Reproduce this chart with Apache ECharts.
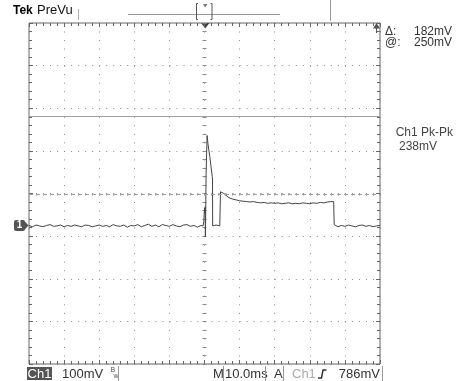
<!DOCTYPE html>
<html>
<head>
<meta charset="utf-8">
<title>Tek PreVu</title>
<script src="https://cdn.jsdelivr.net/npm/echarts@6/dist/echarts.min.js"></script>
<style>
html, body { margin: 0; padding: 0; background: #fff; }
#scope { width: 459px; height: 381px; }
</style>
</head>
<body>
<div id="scope"></div>
<script>
// [time ms (0 = trigger), Ch1 voltage mV above ground]
var preTrigger = [
    [-50, 1], [-49, -2], [-48, 2], [-47, 0], [-46, -2], [-45, 1], [-44, 3], [-43, -1], [-42, 0], [-41, 2],
    [-40, -2], [-39, 1], [-38, -1], [-37, 2], [-36, 0], [-35, -2], [-34, 2], [-33, 1], [-32, -2], [-31, 0],
    [-30, 2], [-29, -1], [-28, 1], [-27, -2], [-26, 3], [-25, 0], [-24, -1], [-23, 2], [-22, -3], [-21, 1],
    [-20, 0], [-19, 3], [-18, -2], [-17, 1], [-16, 4], [-15, -1], [-14, 2], [-13, -2], [-12, 3], [-11, 1],
    [-10, -1], [-9, 3], [-8, 0], [-7, -2], [-6, 2], [-5, 3], [-4, -1], [-3, 1], [-2, -3], [-1, 1], [-0.4, 0]
];
var pulse = [
    [-0.2, 10], [0.0, 42], [0.1, 30], [0.2, 45], [0.25, -26], [0.3, 0], [0.45, 120], [0.74, 212],
    [1.03, 190], [1.5, 163], [2.2, 116], [2.28, 110], [2.32, 0], [2.8, -2], [3.3, 2], [3.8, -1], [4.35, 0]
];
var plateau = [
    [4.56, 80], [5, 79], [5.5, 76], [6, 72], [7, 66], [8, 63], [9, 61], [10, 59], [11, 58], [12, 57],
    [13, 56], [14, 57], [15, 55], [16, 54], [17, 55], [18, 53], [19, 54], [20, 53], [21, 54], [22, 52],
    [23, 53], [24, 54], [25, 52], [26, 53], [27, 52], [28, 54], [29, 53], [30, 52], [31, 54], [32, 53],
    [33, 55], [34, 54], [35, 56], [36, 57], [36.8, 57]
];
var postPulse = [
    [36.95, 3], [37.3, 0], [38, -2], [39, 1], [40, -1], [41, 2], [42, 0], [43, -2], [44, 1], [45, 2],
    [46, -1], [47, 1], [48, -2], [49, 0], [50, 1]
];
var cursorLevels = [257, 75];   // solid cursor, dashed cursor (mV)
var readout = {delta: '182mV', at: '250mV', pkpk: '238mV', scale: '100mV', time: '10.0ms', trig: '786mV'};

var INK = '#333';
var GRAT = '#8a8a8a';
var FONT = '"Liberation Sans Narrow","Liberation Sans",Arial,sans-serif';

function txt(x, y, s, size, color, align, weight) {
    return {
        type: 'text', x: x, y: y, silent: true,
        style: {
            text: s, fill: color || INK,
            font: (weight || 'normal') + ' ' + size + 'px ' + FONT,
            textAlign: align || 'left', textVerticalAlign: 'middle'
        }
    };
}
function seg(x1, y1, x2, y2, color) {
    return {type: 'line', silent: true, shape: {x1: x1, y1: y1, x2: x2, y2: y2},
        style: {stroke: color || '#999', lineWidth: 1}};
}
function poly(points, fill) {
    return {type: 'polygon', silent: true, shape: {points: points}, style: {fill: fill}};
}
function line(points, stroke, w) {
    return {type: 'polyline', silent: true, shape: {points: points},
        style: {stroke: stroke, lineWidth: w || 1, fill: null}};
}

// graticule axes (divisions), ticks only
function divAxis(pos, min, max, extra) {
    var a = {
        type: 'value', position: pos, min: min, max: max, interval: (max - min) / (pos === 'top' || pos === 'bottom' ? 10 : 8),
        axisLine: {show: false, onZero: false},
        axisTick: {show: true, inside: true, length: 4, lineStyle: {color: '#666'}},
        minorTick: {show: true, splitNumber: 5, length: 3, lineStyle: {color: '#666'}},
        axisLabel: {show: false},
        splitLine: {show: false}
    };
    for (var k in extra) a[k] = extra[k];
    return a;
}

var myChart = echarts.init(document.getElementById('scope'));

var headerGraphics = [
    txt(13, 10.5, 'Tek', 12, '#000', 'left', 'bold'),
    txt(37, 10.5, 'PreVu', 13, '#111'),
    seg(78.5, 9, 78.5, 20, '#aaa'),
    seg(128, 14.5, 280, 14.5, '#999'),
    seg(330.5, 0, 330.5, 21, '#999'),
    line([[198, 3.5], [196.5, 3.5], [196.5, 19.5], [198, 19.5]], '#555'),
    line([[210.5, 3.5], [212, 3.5], [212, 19.5], [210.5, 19.5]], '#555'),
    poly([[203, 4], [207.5, 4], [205.2, 7.5]], '#777'),
    poly([[201, 23], [209.5, 23], [205.2, 28.5]], '#444'),
    poly([[373, 28.5], [380, 28.5], [376.5, 23]], '#555'),
    seg(376.5, 28, 376.5, 33, '#555'),

    txt(385, 31.5, '\u0394:', 12),
    txt(452, 31.5, readout.delta, 12, INK, 'right'),
    txt(385, 42.5, '@:', 12),
    txt(452, 42.5, readout.at, 12, INK, 'right'),
    txt(453, 132.5, 'Ch1 Pk-Pk', 12, '#444', 'right'),
    txt(437, 147, readout.pkpk, 12, '#444', 'right'),

    {type: 'rect', silent: true, shape: {x: 27, y: 367, width: 25, height: 13}, style: {fill: '#555'}},
    txt(39.5, 374, 'Ch1', 13, '#fff', 'center'),
    txt(62, 374, readout.scale, 13),
    txt(110.5, 370.5, 'B', 7, '#555'),
    txt(113.5, 376, 'w', 7, '#555'),
    seg(118.5, 366, 118.5, 381, '#999'),
    txt(213, 374, 'M', 13),
    seg(223.5, 366, 223.5, 381, '#999'),
    txt(225, 374, readout.time, 13),
    seg(265.5, 366, 265.5, 381, '#999'),
    txt(274, 374, 'A', 13),
    seg(283.5, 366, 283.5, 381, '#999'),
    txt(292, 374, 'Ch1', 13, '#aaa'),
    line([[318, 378], [321.5, 378], [323, 370], [326.5, 370]], '#333', 1.5),
    txt(380, 374, readout.trig, 13, INK, 'right'),
    seg(382.5, 366, 382.5, 381, '#999')
];

var option = {
    animation: false,
    backgroundColor: '#fff',
    grid: {left: 29, top: 23, width: 351, height: 341, show: true, borderColor: '#666', borderWidth: 1},
    xAxis: [
        divAxis('bottom', -50, 50, {splitLine: {show: true, lineStyle: {color: GRAT, width: 1, type: [1, 7.525]}}}),
        divAxis('top', -50, 50),
        divAxis('bottom', -50, 50, {offset: -170.5, axisTick: {show: true, inside: false, length: 2, lineStyle: {color: GRAT}},
            minorTick: {show: true, splitNumber: 5, length: 2, lineStyle: {color: GRAT}}})
    ],
    yAxis: [
        divAxis('left', -4, 4, {splitLine: {show: true, lineStyle: {color: GRAT, width: 1, type: [1, 6.02]}}}),
        divAxis('right', -4, 4),
        {type: 'value', show: false, min: -324, max: 476, axisLine: {onZero: false}, splitLine: {show: false}},
        divAxis('left', -4, 4, {offset: -175.5, axisTick: {show: true, inside: false, length: 2, lineStyle: {color: GRAT}},
            minorTick: {show: true, splitNumber: 5, length: 2, lineStyle: {color: GRAT}}}),
        divAxis('left', -4, 4, {offset: -175.5, axisTick: {show: true, inside: true, length: 2, lineStyle: {color: GRAT}},
            minorTick: {show: true, splitNumber: 5, length: 2, lineStyle: {color: GRAT}}})
    ],
    series: [
        {
            name: 'Ch1',
            type: 'line',
            xAxisIndex: 0,
            yAxisIndex: 2,
            showSymbol: false,
            symbol: 'none',
            lineStyle: {color: '#444', width: 1},
            data: preTrigger.concat(pulse, plateau, postPulse),
            markLine: {
                silent: true,
                symbol: 'none',
                label: {show: false},
                data: [
                    {yAxis: cursorLevels[0], lineStyle: {type: 'solid', color: '#a0a0a0', width: 1}},
                    {yAxis: cursorLevels[1], lineStyle: {type: [4, 3], color: '#a0a0a0', width: 1}}
                ]
            }
        }
    ],
    graphic: headerGraphics
};
myChart.setOption(option, true);

// channel 1 ground marker on the left edge
var gy = myChart.convertToPixel({yAxisIndex: 2}, 0);
myChart.setOption({
    graphic: headerGraphics.concat([
        {type: 'rect', silent: true, shape: {x: 14, y: gy - 6, width: 11, height: 11, r: 2}, style: {fill: '#555'}},
        poly([[24.5, gy - 5], [28.5, gy - 0.5], [24.5, gy + 4]], '#555'),
        txt(19.5, gy - 0.5, '1', 10, '#fff', 'center', 'bold')
    ])
});
</script>
</body>
</html>
